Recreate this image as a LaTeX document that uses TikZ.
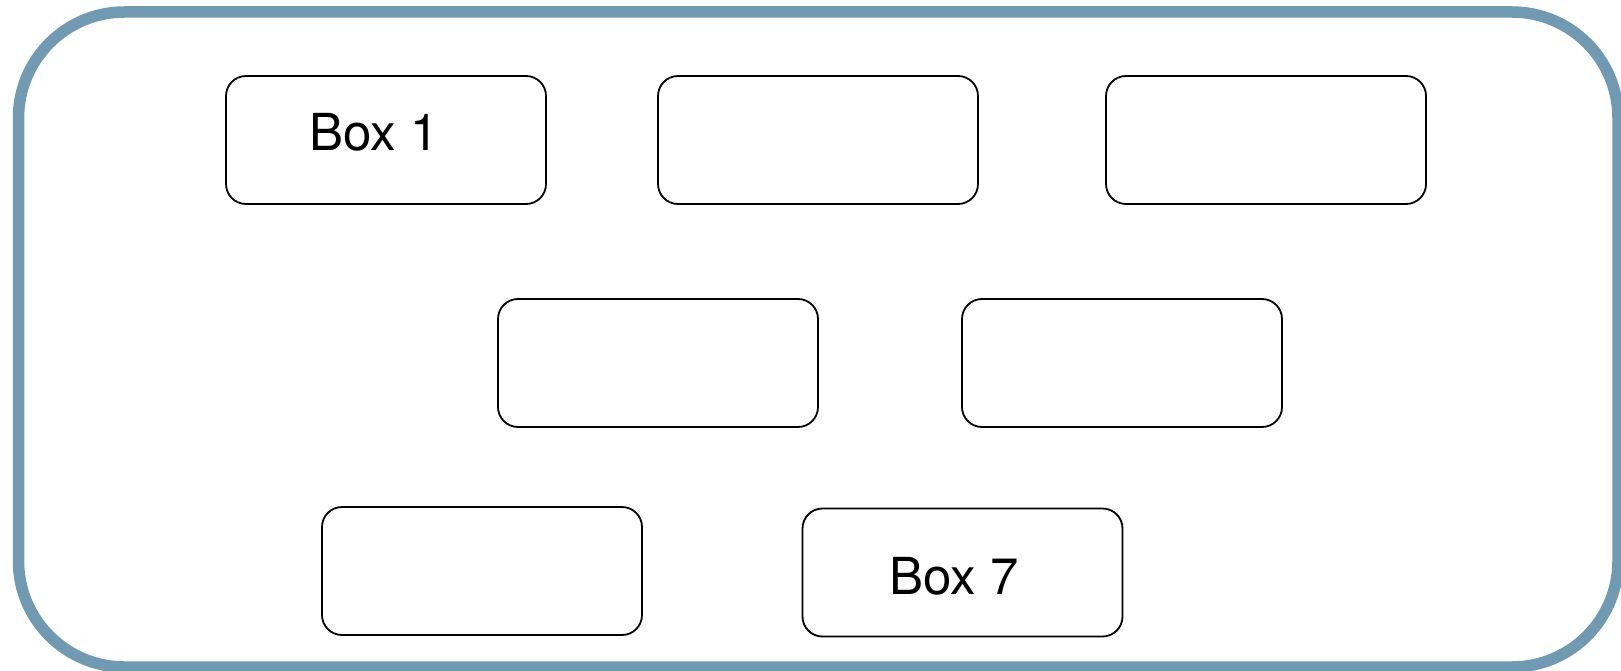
\documentclass[tikz,border=0pt]{standalone}
\usepackage{fontspec}
\setmainfont{TeX Gyre Heros}
\definecolor{frameblue}{RGB}{111,154,178}
\begin{document}
\begin{tikzpicture}[x=1pt,y=-1pt,
  boxnode/.style={draw=black, line width=1.8pt, rectangle, rounded corners=20pt,
    minimum width=320pt, minimum height=128pt, inner sep=0pt, fill=white},
  boxtext/.style={font=\fontsize{51}{60}\selectfont, inner sep=0pt}]
\useasboundingbox (0,0) rectangle (1621,671);
\draw[frameblue, line width=11.5pt, rounded corners=106pt] (18.5,12) rectangle (1618,667);
\node[boxnode] (b1) at (386,140) {};
\node[boxnode] (b2) at (818,140) {};
\node[boxnode] (b3) at (1266,140) {};
\node[boxnode] (b4) at (658,363) {};
\node[boxnode] (b5) at (1122,363) {};
\node[boxnode] (b6) at (482,571) {};
\node[boxnode] (b7) at (962.5,572.5) {};
\node[boxtext] (t1) at ([xshift=-12pt,yshift=8pt]b1.center) {Box 1};
\node[boxtext] (t7) at ([xshift=-8.5pt,yshift=-4pt]b7.center) {Box 7};
\end{tikzpicture}
\end{document}
